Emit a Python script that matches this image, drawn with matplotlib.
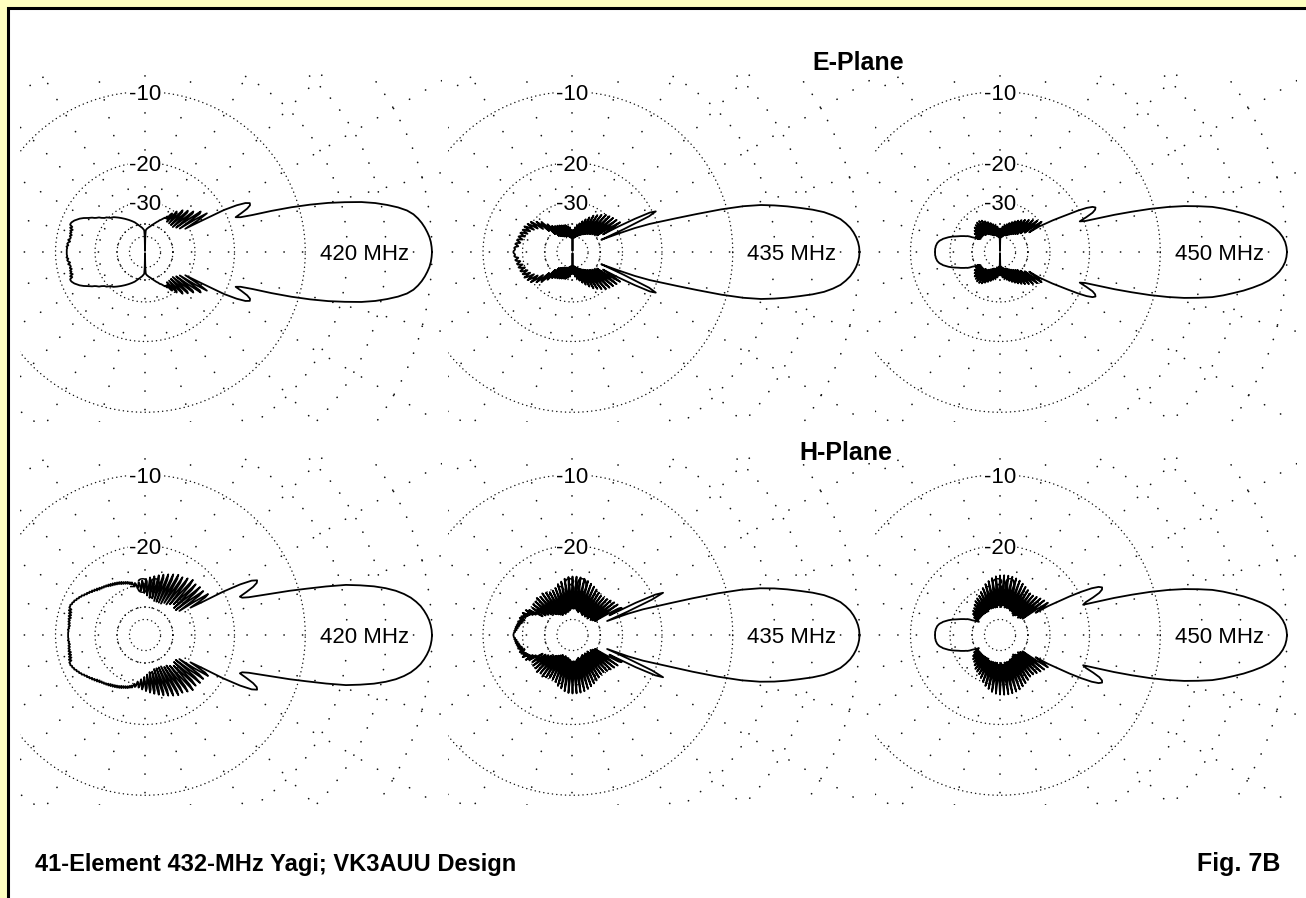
import numpy as np
import matplotlib.pyplot as plt
from matplotlib.patches import Rectangle

plt.rcParams['font.family'] = ['Liberation Sans', 'DejaVu Sans']

W, H = 1306, 898

# field strength in dB, 0..180 deg in 1 deg steps; the patterns are symmetric
angles = list(range(0, 181))

e420 = [0, -0.02, -0.06, -0.13, -0.24, -0.37, -0.53, -0.73, -0.98, -1.35,
        -1.9, -2.6, -3.4, -4.4, -5.7, -7.1, -8.8, -10.8, -13.2, -15.9,
        -17.8, -18.6, -17.4, -16.3, -15.7, -15.6, -16.2, -17.6, -20.0, -26.0,
        -31, -26, -23.5, -27, -33, -25, -24.5, -29, -34, -26.5,
        -26, -31, -35, -27.5, -27, -32, -35, -28.5, -28, -32,
        -35, -30, -29.5, -33, -35, -31, -32, -34, -33, -34,
        -34, -34.5, -35, -35.5, -35.8, -36, -36.5, -37, -37.3, -37.7,
        -38, -38.5, -38.8, -39.2, -39.6, -40, -40.3, -40.6, -41, -41.3,
        -41.5, -41.8, -42.1, -42.4, -42.7, -43, -43.4, -43.8, -44.5, -50,
        -95, -50, -44.5, -43.8, -43.4, -43, -42.6, -42.2, -41.9, -41.6,
        -41.3, -41, -40.6, -40.3, -40, -39.6, -39.2, -38.8, -38.4, -38,
        -37.7, -37.4, -37.1, -36.8, -36.5, -36.2, -35.9, -35.6, -35.3, -35,
        -34.7, -34.4, -34.1, -33.8, -33.5, -33.2, -32.9, -32.6, -32.3, -32,
        -31.7, -31.4, -31.1, -30.9, -30.7, -30.6, -30.2, -29.8, -29.4, -29.2,
        -29, -28.6, -28.2, -27.6, -27.3, -27, -26.6, -26, -25.6, -25.2,
        -24.7, -24.2, -23.8, -23.4, -23.1, -22.8, -22.5, -22.3, -22.1, -22.0,
        -22.0, -22.6, -22.2, -22.9, -22.4, -22.8, -22.5, -23.0, -22.6, -22.9,
        -22.8, -22.4, -22.9, -22.5, -22.3, -22.6, -22.2, -22.4, -22.3, -22.3,
        -22.3]

e435 = [0, -0.02, -0.08, -0.18, -0.32, -0.5, -0.75, -1.05, -1.5, -2.05,
        -2.8, -3.7, -4.6, -5.6, -6.7, -8.3, -10.6, -13.6, -16.5, -19.2,
        -21.5, -25, -31, -38, -28, -21, -19.4, -20.5, -24, -29,
        -36, -31, -28, -32, -39, -32, -28.5, -33, -40, -33,
        -29, -34, -41, -34, -29.5, -35, -42, -35, -30, -36,
        -43, -36, -31, -37, -44, -37, -32, -38, -45, -38,
        -33, -39, -46, -39, -34.5, -40, -47, -40, -36, -41,
        -48, -41, -37.5, -42, -49, -42, -39, -43, -50, -43,
        -40.5, -44, -51, -44, -42, -45, -52, -45, -44, -55,
        -95, -55, -44, -45, -52, -45, -42, -44, -51, -44,
        -41, -44, -50, -44, -40.5, -43, -49, -43, -40, -43,
        -49, -43, -39.5, -43, -48, -42, -39, -42, -48, -42,
        -38.5, -42, -47, -41, -38, -41, -46, -40, -37, -39,
        -45, -38, -35, -37, -42, -35, -32.5, -34, -38, -33,
        -31, -33, -35, -31.5, -29.5, -31.5, -33, -30.5, -29, -30.5,
        -32, -29.5, -28.5, -30, -31, -29, -28.5, -29.5, -30.5, -28.5,
        -28.2, -29, -30, -28.5, -28, -28.8, -29.5, -28, -27.8, -28.5,
        -29, -27.8, -27.5, -28.2, -28.5, -27.6, -27.3, -27.6, -27.5, -27.2,
        -27.1]

e450 = [0, -0.03, -0.1, -0.23, -0.42, -0.68, -1.0, -1.45, -2.0, -2.6,
        -3.3, -4.0, -4.8, -5.9, -7.1, -8.6, -10.4, -12.6, -14.9, -17.5,
        -19.8, -20.8, -19.3, -18.0, -17.4, -17.2, -17.6, -18.6, -20.3, -22.5,
        -24.6, -26.5, -29, -31, -36, -31, -29.5, -32, -38, -33,
        -30.5, -33, -40, -34, -31.5, -34, -42, -35, -32.5, -35,
        -43, -36, -33.5, -36, -44, -37, -34.5, -37, -45, -38,
        -35.5, -38, -46, -39, -36.5, -39, -47, -40, -37.5, -40,
        -48, -41, -38.5, -41, -48, -42, -39.5, -42, -49, -43,
        -40.5, -43, -50, -44, -41.5, -44, -51, -45, -43, -55,
        -95, -55, -43, -45, -51, -44, -41.5, -44, -50, -43,
        -40.5, -43, -49, -42, -39.5, -42, -48, -41, -38.5, -41,
        -48, -40, -37.5, -40, -47, -39, -36.5, -39, -46, -38,
        -35.5, -38, -45, -38, -35, -38, -44, -38, -35, -38,
        -44, -38, -35.5, -38, -43, -38, -36, -39, -43, -39,
        -37, -40, -43, -40, -38, -41, -43, -41, -39.5, -42,
        -40, -39, -38, -36.5, -35.5, -35, -34.2, -33.5, -32.8, -32.2,
        -31.5, -30.8, -30, -29.4, -28.8, -28.3, -27.8, -27.3, -27, -26.6,
        -26.3, -26.1, -25.9, -25.8, -25.7, -25.6, -25.6, -25.5, -25.5, -25.5,
        -25.5]

h420 = [0, -0.02, -0.07, -0.15, -0.27, -0.42, -0.6, -0.85, -1.15, -1.55,
        -2.05, -2.7, -3.5, -4.5, -5.6, -7.3, -9.2, -11.0, -13.0, -14.8,
        -16.4, -17.4, -17.7, -16.4, -15.2, -14.5, -14.3, -15.0, -16.8, -20,
        -25.5, -29, -24, -23, -27, -33, -25, -23.5, -28, -34,
        -25.5, -23.5, -29, -34, -25.5, -23.8, -30, -33, -25, -23.5,
        -29, -34, -25.5, -24, -30, -35, -26, -24.5, -31, -35,
        -26, -24.5, -31, -36, -26.5, -25, -31, -36, -27, -25.5,
        -31, -36, -27, -26, -32, -36, -27.5, -26.5, -32, -35,
        -28, -27, -32, -35, -28.5, -27.5, -32, -34, -29, -28,
        -31, -33, -29.5, -28.5, -31, -32, -29.5, -29, -30.5, -31,
        -29.5, -29, -30, -29.5, -28.6, -29.2, -28.4, -28.9, -28.1, -28.6,
        -27.9, -28.4, -27.7, -28.2, -27.4, -28, -27.2, -27.7, -27, -27.5,
        -26.8, -27.3, -26.6, -27.1, -26.4, -26.9, -26.2, -26.6, -26.0, -26.3,
        -25.8, -26.1, -25.6, -25.9, -25.3, -25.7, -25.0, -25.4, -24.7, -25.0,
        -24.4, -24.7, -24.1, -24.3, -23.8, -24.0, -23.5, -23.6, -23.1, -23.2,
        -22.8, -22.9, -22.5, -22.6, -22.2, -22.3, -22.0, -22.1, -21.8, -21.9,
        -21.8, -22.4, -21.9, -22.6, -22.1, -22.7, -22.2, -22.8, -22.3, -22.7,
        -22.4, -22.8, -22.5, -22.9, -22.6, -22.8, -22.5, -22.7, -22.6, -22.6,
        -22.6]

h435 = [0, -0.02, -0.08, -0.18, -0.32, -0.5, -0.75, -1.05, -1.5, -2.05,
        -2.8, -3.7, -4.6, -5.6, -6.8, -8.5, -11.0, -14.2, -17.5, -20.5,
        -23, -27, -35, -27, -20.5, -18.1, -19.5, -24, -33, -28,
        -29, -34, -41, -34, -28.5, -34, -42, -34, -29, -35,
        -43, -35, -29.5, -35, -42, -35, -30, -36, -44, -36,
        -30.5, -36, -43, -36, -30.5, -36, -44, -36, -30, -36,
        -43, -35, -29.5, -35, -44, -35, -29, -35, -43, -34,
        -28.5, -34, -42, -34, -28, -34, -43, -33, -27.6, -33,
        -42, -33, -27.4, -33, -41, -33, -27.3, -33, -41, -33,
        -27.3, -33, -41, -33, -27.4, -33, -42, -33, -27.8, -34,
        -43, -34, -28.5, -34, -43, -35, -29, -35, -44, -35,
        -30, -36, -43, -36, -30.5, -36, -44, -36, -30.5, -36,
        -43, -35, -30, -35, -42, -35, -29.5, -35, -41, -35,
        -30, -35, -40, -35, -29.5, -34, -39, -34, -30, -34,
        -38, -34, -30, -33, -37, -33, -30.5, -33, -36, -33,
        -30, -33, -29, -32, -30, -31, -28.5, -30.5, -29, -30,
        -28.5, -29.5, -28.2, -30, -28.5, -29.5, -28, -29.3, -28, -28.8,
        -27.8, -28.6, -27.6, -28.3, -27.5, -28, -27.3, -27.6, -27.2, -27.2,
        -27.1]

h450 = [0, -0.03, -0.1, -0.23, -0.42, -0.68, -1.0, -1.45, -2.0, -2.6,
        -3.3, -4.0, -4.8, -5.9, -7.1, -8.6, -10.4, -12.6, -15.0, -17.8,
        -20.2, -19.5, -18.0, -16.8, -16.2, -16.05, -16.5, -17.6, -19.5, -22,
        -25.3, -28, -33, -29, -27.5, -32, -40, -33, -28, -33,
        -41, -33, -28.5, -33, -42, -34, -29, -34, -41, -34,
        -29.5, -34, -42, -34, -29.5, -34, -43, -34, -29, -34,
        -42, -33, -28.5, -33, -41, -33, -28, -33, -41, -33,
        -27.5, -33, -40, -32, -27.2, -32, -40, -32, -27, -32,
        -40, -32, -26.9, -32, -39, -32, -26.9, -32, -40, -32,
        -27, -32, -39, -32, -27.2, -32, -40, -32, -27.6, -33,
        -40, -33, -28.3, -33, -40, -34, -29, -34, -40, -34,
        -30, -35, -40, -35, -31, -35, -41, -35, -32, -36,
        -41, -36, -32.5, -36, -41, -36, -33, -37, -41, -37,
        -34, -37, -41, -37, -35, -38, -41, -38, -35.5, -38,
        -41, -38, -36.5, -39, -41, -39, -38, -40, -42, -41,
        -40, -39, -38, -36.5, -35.5, -35, -34.2, -33.5, -32.8, -32.2,
        -31.5, -30.8, -30, -29.4, -28.8, -28.3, -27.8, -27.3, -27, -26.6,
        -26.3, -26.1, -25.9, -25.8, -25.7, -25.6, -25.6, -25.5, -25.5, -25.5,
        -25.5]

patterns = [[e420, e435, e450], [h420, h435, h450]]
freq_labels = ['420 MHz', '435 MHz', '450 MHz']
plane_labels = ['E-Plane', 'H-Plane']
dense_rings = [-10, -20, -30, -40, -50]
light_rings = [0, -3, -6]
ring_labels = [-10, -20, -30]
spoke_angles = list(range(0, 360, 15))


# ARRL log-periodic scale: radius shrinks by 0.89 for every 2 dB
def fwd(db):
    return 0.89 ** (-np.asarray(db, dtype=float) / 2.0)


def inv(x):
    x = np.clip(np.asarray(x, dtype=float), 1e-300, None)
    return -2.0 * np.log(x) / np.log(0.89)


fig = plt.figure(figsize=(W / 100, H / 100), dpi=100, facecolor='#ffffc0')
fig.add_artist(Rectangle((7.5 / W, -0.1), 1.2, 1.1 - 8.5 / H,
                         transform=fig.transFigure, fc='white', ec='black',
                         lw=2.2, zorder=-1))

R0 = 287.0          # pixel radius of the 0 dB ring
RMIN, RMAX = -200, 6
half = R0 * (fwd(RMAX) - fwd(RMIN)) / (fwd(0) - fwd(RMIN))
cxs = [145, 572.5, 1000]
cys = [252, 635]
ring_th = np.radians(np.arange(0, 361))

for row, cy in enumerate(cys):
    for col, cx in enumerate(cxs):
        ax = fig.add_axes([(cx - half) / W, 1 - (cy + half) / H,
                           2 * half / W, 2 * half / H], projection='polar')
        ax.set_rscale('function', functions=(fwd, inv))

        # grid
        for lvl in dense_rings:
            ax.plot(ring_th, [lvl] * len(ring_th), color='#111111', lw=1.05,
                    ls=(0, (0.1, 2.9)), dash_capstyle='round', zorder=1)
        for lvl in light_rings:
            ax.plot(ring_th, [lvl] * len(ring_th), color='#111111', lw=1.2,
                    ls=(0, (0.1, 9)), dash_capstyle='round', zorder=1)
        for a in spoke_angles:
            ax.plot([np.radians(a)] * 2, [-40, RMAX], color='#111111', lw=1.2,
                    ls=(0, (0.1, 11)), dash_capstyle='round', zorder=1)

        for lvl in ring_labels:
            ax.text(np.pi / 2, lvl, str(lvl), ha='center', va='center_baseline',
                    fontsize=16, zorder=2,
                    bbox=dict(fc='white', ec='none', pad=0.6))
        ax.text(0, -4.6, freq_labels[col], ha='center', va='center_baseline',
                fontsize=16, zorder=2, bbox=dict(fc='white', ec='none', pad=0.6))

        # pattern, mirrored about the boresight
        db = patterns[row][col]
        th = np.radians(angles + [360 - a for a in angles[::-1][1:]])
        vals = db + db[::-1][1:]
        ax.plot(th, vals, color='black', lw=1.3, zorder=3)

        ax.set_rlim(RMIN, RMAX)
        ax.axis('off')

        clip = Rectangle(((cx - 125) / W, 1 - (cy + 170) / H), 422 / W, 348 / H,
                         transform=fig.transFigure)
        for ln in ax.lines:
            ln.set_clip_path(clip)

fig.text(858 / W, 1 - 70 / H, plane_labels[0], ha='center', va='baseline',
         fontsize=18, fontweight='bold')
fig.text(846 / W, 1 - 460 / H, plane_labels[1], ha='center', va='baseline',
         fontsize=18, fontweight='bold')
fig.text(35 / W, 1 - 871 / H, '41-Element 432-MHz Yagi; VK3AUU Design',
         ha='left', va='baseline', fontsize=17, fontweight='bold')
fig.text(1280 / W, 1 - 871 / H, 'Fig. 7B', ha='right', va='baseline',
         fontsize=18, fontweight='bold')

fig.savefig('out.png', dpi=100, facecolor=fig.get_facecolor())
